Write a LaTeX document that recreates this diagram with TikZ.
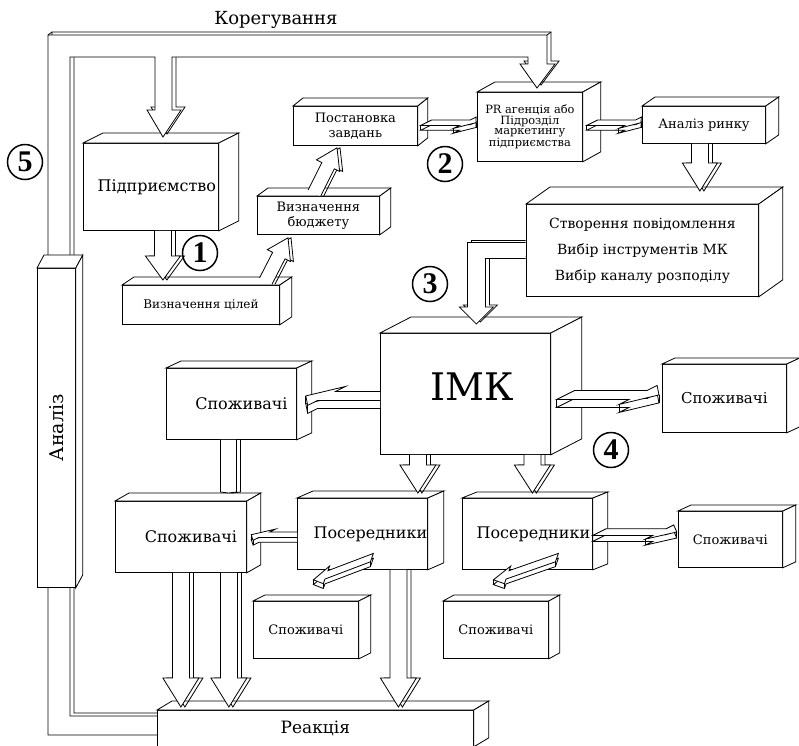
\documentclass[tikz,border=0pt]{standalone}
\usepackage{fontspec}
\setmainfont{DejaVu Serif}
\newfontfamily\numfont{Liberation Serif}
\usepackage{graphicx}
\usetikzlibrary{calc}

% top and right faces of a box node
\newcommand{\boxfaces}[3]{%
  \path[face] (#1.north west) -- ++(#2,#3) -- ($(#1.north east)+(#2,#3)$) -- (#1.north east) -- cycle;
  \path[face] (#1.north east) -- ($(#1.north east)+(#2,#3)$) -- ($(#1.south east)+(#2,#3)$) -- (#1.south east) -- cycle;}

% block arrow from #2 to #3: shaft half width #4, head half width #5, head length #6
\newcommand{\blockarrow}[6][4pt,0pt]{%
  \path #2 coordinate (ba) #3 coordinate (bb) ($(bb)!#6!(ba)$) coordinate (bh);
  \draw[arrowrim, transform canvas={shift={(#1)}}] ($(ba)!#4!90:(bb)$) -- ($(bh)!#4!90:(bb)$) -- ($(bh)!#5!90:(bb)$) -- (bb)
    -- ($(bh)!#5!-90:(bb)$) -- ($(bh)!#4!-90:(bb)$) -- ($(ba)!#4!-90:(bb)$);
  \path[arrowface] ($(ba)!#4!90:(bb)$) -- ($(bh)!#4!90:(bb)$) -- ($(bh)!#5!90:(bb)$) -- (bb)
    -- ($(bh)!#5!-90:(bb)$) -- ($(bh)!#4!-90:(bb)$) -- ($(ba)!#4!-90:(bb)$);}

% flat slab arrow lying on the floor, from #2 towards #3, depth #1, depth and thickness scaled by #4
\newcommand{\flatarrow}[4][18,-9]{%
  \path #2 coordinate (fa) #3 coordinate (fb)
    ($(fa)!0.777!(fb)$) coordinate (f3)
    ($(fa)+#4*(#1)$) coordinate (f1)
    ($(f3)+#4*(#1)$) coordinate (f2)
    ($(f3)+{#4*1.55}*(#1)$) coordinate (f4)
    ($(fb)+{#4*0.5}*(#1)$) coordinate (f5)
    ($(f3)-{#4*0.55}*(#1)$) coordinate (f6);
  \path[arrowface, transform canvas={yshift={-8pt*#4}}] (fa) -- (f1) -- (f2) -- (f4) -- (f5) -- (f6) -- (f3) -- cycle;
  \path[arrowface] (fa) -- (f1) -- (f2) -- (f4) -- (f5) -- (f6) -- (f3) -- cycle;
  \draw[arrowrim] (fa) -- ++(0,{8*#4}) (f5) -- ++(0,{8*#4}) (f6) -- ++(0,{8*#4});}

\tikzset{
  face/.style={draw, fill=white, line width=0.8pt},
  cube/.style={face, inner sep=0pt, anchor=north west, align=center},
  arrowface/.style={draw, fill=white, line width=0.8pt},
  arrowrim/.style={draw, line width=0.8pt},
  num/.style={circle, draw, line width=1.5pt, minimum size=35pt, inner sep=0pt,
    font=\numfont\fontsize{30}{30}\selectfont\bfseries},
}

\begin{document}
\begin{tikzpicture}[x=1pt, y=-1pt]
\useasboundingbox (0,0) rectangle (799,745);

% boxes
\node[cube, minimum width=135pt, minimum height=87pt, font=\fontsize{16}{18}\selectfont] (firm) at (83,143) {\hspace*{12pt}Підприємство};
\boxfaces{firm}{20}{-10}
\node[cube, minimum width=157pt, minimum height=39pt, font=\fontsize{12}{14}\selectfont] (goals) at (122,285) {Визначення цілей};
\boxfaces{goals}{12}{-8}
\node[cube, minimum width=122pt, minimum height=38pt, font=\fontsize{13}{15}\selectfont] (budget) at (257,196) {Визначення\\бюджету};
\boxfaces{budget}{11}{-8}
\node[cube, minimum width=124pt, minimum height=39pt, font=\fontsize{13}{15}\selectfont] (tasks) at (293,106) {Постановка\\завдань};
\boxfaces{tasks}{10}{-8}
\node[cube, minimum width=105pt, minimum height=69pt, font=\fontsize{11.4}{10.3}\selectfont] (agency) at (477,92) {PR агенція або\\Підрозділ\\маркетингу\\підприємства};
\boxfaces{agency}{18}{-10}
\node[cube, minimum width=123pt, minimum height=37pt, font=\fontsize{13}{15}\selectfont] (market) at (642,106) {Аналіз ринку};
\boxfaces{market}{13}{-9}
\node[cube, minimum width=170pt, minimum height=121pt, font=\fontsize{38}{40}\selectfont, text height=28pt, text depth=15pt] (imk) at (380,333) {\hspace*{14pt}ІМК};
\boxfaces{imk}{31}{-16}
\node[cube, minimum width=130pt, minimum height=71pt, font=\fontsize{16}{18}\selectfont] (consA) at (166,368) {\hspace*{20pt}Споживачі};
\boxfaces{consA}{15}{-7}
\node[cube, minimum width=131pt, minimum height=71pt, font=\fontsize{16}{18}\selectfont] (consB) at (115,501) {\hspace*{20pt}Споживачі};
\boxfaces{consB}{14}{-8}
\node[cube, minimum width=130pt, minimum height=71pt, font=\fontsize{16}{18}\selectfont] (medL) at (297,498) {\hspace*{16pt}Посередники};
\boxfaces{medL}{16}{-7}
\node[cube, minimum width=130pt, minimum height=71pt, font=\fontsize{16}{18}\selectfont] (medR) at (462,498) {\hspace*{12pt}Посередники};
\boxfaces{medR}{15}{-6}
\node[cube, minimum width=124pt, minimum height=68pt, font=\fontsize{15}{17}\selectfont] (consC) at (662,364) {Споживачі};
\boxfaces{consC}{13}{-6}
\node[cube, minimum width=104pt, minimum height=56pt, font=\fontsize{13}{15}\selectfont] (consD) at (678,511) {Споживачі};
\boxfaces{consD}{13}{-6}
\node[cube, minimum width=105pt, minimum height=57pt, font=\fontsize{13}{15}\selectfont] (consE) at (253,601) {Споживачі};
\boxfaces{consE}{12}{-6}
\node[cube, minimum width=105pt, minimum height=57pt, font=\fontsize{13}{15}\selectfont] (consF) at (443,601) {Споживачі};
\boxfaces{consF}{11}{-6}
\node[cube, minimum width=232pt, minimum height=92pt, font=\fontsize{14}{26}\selectfont] (plan) at (526,204) {Створення повідомлення\\Вибір інструментів МК\\Вибір каналу розподілу};
\boxfaces{plan}{24}{-17}

% feedback pipe: from the reaction back to the firm and the agency
\draw[arrowrim, transform canvas={shift={(4pt,3pt)}}] (157,716) -- (70,716) -- (70,57) -- (155,57) -- (155,110) -- (147,110) -- (163,137)
  -- (181,110) -- (172,110) -- (172,57) -- (528,57) -- (528,64) -- (520,64) -- (537,88) -- (555,64) -- (547,64)
  -- (547,35) -- (48,35) -- (48,735) -- (157,735);
\path[arrowface] (157,716) -- (70,716) -- (70,57) -- (155,57) -- (155,110) -- (147,110) -- (163,137)
  -- (181,110) -- (172,110) -- (172,57) -- (528,57) -- (528,64) -- (520,64) -- (537,88) -- (555,64) -- (547,64)
  -- (547,35) -- (48,35) -- (48,735) -- (157,735);
\draw[arrowrim] (48,35) -- ++(4,-3) (547,35) -- ++(4,-3);
\node[font=\fontsize{18}{20}\selectfont] (corr) at (276,20) {Корегування};

\node[cube, minimum width=38pt, minimum height=319pt, font=\fontsize{19}{21}\selectfont] (analysis) at (37,268) {\rotatebox{90}{Аналіз}};
\boxfaces{analysis}{7}{-13}

\node[cube, minimum width=316pt, minimum height=36pt, font=\fontsize{17}{19}\selectfont] (reaction) at (157,710) {Реакція};
\boxfaces{reaction}{15}{-9}

% bent arrow from the plan into IMK, kept left of the plan box
\coordinate (e1) at ($(plan.west)+(0,-8)$);
\coordinate (e2) at ($(imk.north)+(11,-9)$);
\begin{scope}
\clip (0,0) rectangle ([xshift=-0.4pt,yshift=-745pt]plan.west);
\draw[arrowrim, transform canvas={shift={(4pt,2pt)}}] (e1) -| ($(e2)+(-9,-17)$) -- ++(-8,0) -- (e2) -- ++(17,-17) -- ++(-8,0) |- ($(plan.west)+(0,8)$);
\path[arrowface] (e1) -| ($(e2)+(-9,-17)$) -- ++(-8,0) -- (e2) -- ++(17,-17) -- ++(-8,0) |- ($(plan.west)+(0,8)$);
\end{scope}

% numbered stages
\node[num] (n1) at (200,253) {1};
\node[num] (n2) at (445,164) {2};
\node[num] (n3) at (430,284) {3};
\node[num] (n4) at (611,450) {4};
\node[num] (n5) at (25,162) {5};

% arrows
\blockarrow{($(firm.south)+(12,0)$)}{($(goals.north)+(-38,-5)$)}{8.5pt}{17.5pt}{24pt}
\blockarrow[3pt,0pt]{($(goals.north east)+(-14,-4)$)}{($(budget.south west)+(31,3)$)}{7pt}{13pt}{20pt}
\blockarrow[3pt,0pt]{($(budget.north)+(-4,-3)$)}{($(tasks.south west)+(44,2)$)}{7pt}{13pt}{20pt}
\flatarrow{($(tasks.east)+(3,-0.5)$)}{($(agency.west)+(-6.5,-1.5)$)}{0.6}
\flatarrow{($(agency.east)+(4,-1.5)$)}{($(market.west)+(-6.5,0.5)$)}{0.6}
\blockarrow{($(market.south)+(-4,0)$)}{($(plan.north)+(57.5,-13)$)}{8.5pt}{17.5pt}{28pt}
\blockarrow{($(imk.south)+(-47.5,0)$)}{($(medL.north)+(55.5,-5)$)}{8.5pt}{18pt}{28pt}
\blockarrow{($(imk.south)+(67,0)$)}{($(medR.north)+(5,-5)$)}{8.5pt}{18pt}{28pt}
\begin{scope}
\clip (0,0) rectangle ([yshift=-745pt]imk.north west);
\flatarrow{($(imk.west)+(10,6.5)$)}{($(consA.east)+(0,-3.5)$)}{1}
\end{scope}
\flatarrow{($(imk.east)+(6,5.5)$)}{($(consC.west)+(-12,1)$)}{1}
\blockarrow{($(consA.south)+(-3,0)$)}{($(consB.north)+(47.5,-8)$)}{8pt}{8pt}{1pt}
\blockarrow{($(consB.south)+(0,0)$)}{($(reaction.north)+(-134.5,-3)$)}{8.5pt}{18pt}{29pt}
\blockarrow{($(consB.south)+(48,0)$)}{($(reaction.north)+(-86.5,-3)$)}{8.5pt}{18pt}{29pt}
\blockarrow{($(medL.south)+(36,0)$)}{($(reaction.north)+(83,-3)$)}{8.5pt}{18pt}{29pt}
\begin{scope}
\clip (0,0) rectangle ([yshift=-745pt]medL.north west);
\flatarrow{($(medL.west)+(8,3.5)$)}{($(consB.east)+(-1,0.5)$)}{0.6}
\end{scope}
\flatarrow{($(medR.east)+(0,1.5)$)}{($(consD.west)+(-8,-4)$)}{0.75}
\flatarrow[5,-14]{($(medL.south)+(8,-8)$)}{($(consE.north)+(6,-17)$)}{0.6}
\flatarrow[5,-14]{($(medR.south)+(28,-8)$)}{($(consF.north)+(-4,-17)$)}{0.6}
\end{tikzpicture}
\end{document}
